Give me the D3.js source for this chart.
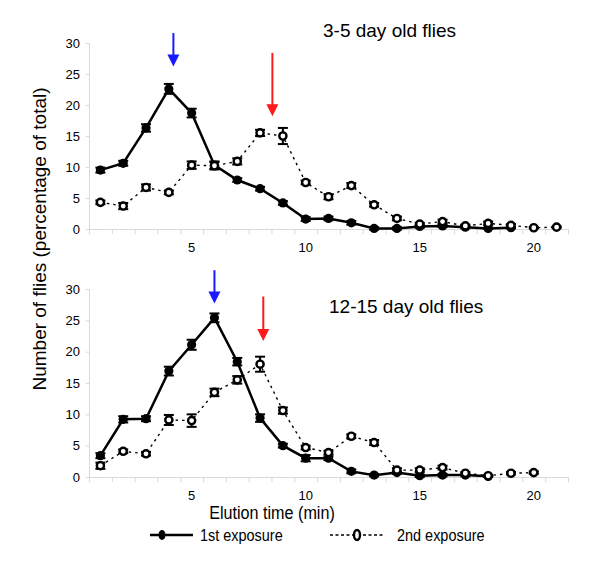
<!DOCTYPE html>
<html><head><meta charset="utf-8">
<script src="https://cdn.jsdelivr.net/npm/d3@7"></script>
<style>body{margin:0;background:#fff}svg{display:block}text{font-family:"Liberation Sans",Arial,sans-serif}</style>
</head><body><svg id="c" width="600" height="570"></svg>
<script>
// ---- data ----
const categories = [1,2,3,4,5,6,7,8,9,10,11,12,13,14,15,16,17,18,19,20,21];
const xTickLabels = [5,10,15,20];
const yTickLabels = [0,5,10,15,20,25,30];
const panelTitles = ["3-5 day old flies","12-15 day old flies"];

const young1st    = [9.5,10.6,16.3,22.6,18.7,10.3,7.9,6.5,4.2,1.6,1.7,1.0,0.1,0.1,0.4,0.5,0.3,0.1,0.2];
const young1stErr = [0.4,0.4,0.6,0.8,0.7,0.6,0.3,0.3,0.3,0.3,0.3,0.3,0.2,0.2,0.2,0.2,0.2,0.1,0.1];
const young2nd    = [4.3,3.7,6.7,5.9,10.3,10.2,10.9,15.5,15.0,7.5,5.2,7.0,3.9,1.7,0.8,1.2,0.5,0.9,0.6,0.2,0.3];
const young2ndErr = [0.3,0.5,0.5,0.3,0.6,0.6,0.5,0.5,1.3,0.3,0.4,0.4,0.3,0.3,0.2,0.3,0.2,0.3,0.2,0.1,0.1];

const old1st    = [3.4,9.2,9.3,16.9,21.1,25.4,18.4,9.4,5.0,3.0,3.0,0.9,0.3,0.7,0.2,0.3,0.3,0.1];
const old1stErr = [0.4,0.5,0.4,0.7,0.8,0.7,0.6,0.6,0.3,0.5,0.3,0.3,0.2,0.2,0.2,0.2,0.2,0.1];
const old2nd    = [1.8,4.1,3.7,9.1,9.0,13.5,15.5,18.0,10.6,4.7,3.9,6.5,5.5,1.1,1.1,1.5,0.6,0.2,0.6,0.7];
const old2ndErr = [0.5,0.3,0.3,0.8,1.0,0.6,0.6,1.2,0.5,0.3,0.3,0.3,0.4,0.3,0.3,0.3,0.2,0.1,0.2,0.2];

// arrows: elution position, start value, tip value
const youngArrowX = [4.2, 8.54], youngArrowFrom = [31.6, 28.4], youngArrowTo = [26.2, 18.2];
const oldArrowX   = [6.0, 8.14], oldArrowFrom   = [33.0, 28.8], oldArrowTo   = [27.7, 21.7];
const arrowColors = ["#1a1aff", "#ff1a1a"];

const legendLabels = ["1st exposure","2nd exposure"];

// ---- drawing ----
const svg = d3.select("#c");
const x = d3.scaleLinear().domain([0.5, 21.5]).range([89, 568]);

const panels = [
  {top:43, bottom:229, s1:young1st, e1:young1stErr, s2:young2nd, e2:young2ndErr,
   ax:youngArrowX, af:youngArrowFrom, at:youngArrowTo, title:panelTitles[0], tx:323, ty:37},
  {top:289, bottom:477, s1:old1st, e1:old1stErr, s2:old2nd, e2:old2ndErr,
   ax:oldArrowX, af:oldArrowFrom, at:oldArrowTo, title:panelTitles[1], tx:329, ty:313}
];

panels.forEach(p => {
  const y = d3.scaleLinear().domain([0,30]).range([p.bottom, p.top]);
  const g = svg.append("g");

  const xAxis = d3.axisBottom(x)
    .tickValues(d3.range(0.5, 21.6, 1))
    .tickSize(5).tickFormat("");
  const gx = g.append("g").attr("transform",`translate(0,${p.bottom})`).call(xAxis);
  gx.selectAll("path,line").attr("stroke","#d9d9d9").attr("stroke-width",1);
  g.append("g").selectAll("text").data(xTickLabels).join("text")
    .attr("x", d => x(d)).attr("y", p.bottom + 23)
    .attr("text-anchor","middle").attr("font-size",13).text(d => d);

  const yAxis = d3.axisLeft(y).tickValues(yTickLabels).tickSize(3).tickPadding(6);
  const gy = g.append("g").attr("transform",`translate(${x.range()[0]},0)`).call(yAxis);
  gy.select(".domain").attr("stroke","#d9d9d9");
  gy.selectAll("line").attr("stroke","#d9d9d9");
  gy.selectAll("text").attr("font-size",13).attr("font-family","Liberation Sans, Arial, sans-serif").attr("fill","#000");

  const d1 = p.s1.map((v,i)=>({c:categories[i], v, e:p.e1[i]}));
  const d2 = p.s2.map((v,i)=>({c:categories[i], v, e:p.e2[i]}));
  const line = d3.line().x(d=>x(d.c)).y(d=>y(d.v));

  g.append("path").datum(d2).attr("d",line).attr("fill","none")
    .attr("stroke","#000").attr("stroke-width",1.4).attr("stroke-dasharray","2.5,4");
  g.append("path").datum(d1).attr("d",line).attr("fill","none")
    .attr("stroke","#000").attr("stroke-width",2.5);

  const errBars = (data) => {
    const eg = g.append("g").attr("stroke","#000").attr("stroke-width",2);
    data.forEach(d => {
      eg.append("line").attr("x1",x(d.c)).attr("x2",x(d.c)).attr("y1",y(d.v-d.e)).attr("y2",y(d.v+d.e));
      [d.v-d.e, d.v+d.e].forEach(v => eg.append("line")
        .attr("x1",x(d.c)-5).attr("x2",x(d.c)+5).attr("y1",y(v)).attr("y2",y(v)));
    });
  };
  errBars(d1);
  g.append("g").selectAll("circle").data(d1).join("circle")
    .attr("cx",d=>x(d.c)).attr("cy",d=>y(d.v)).attr("r",4.6).attr("fill","#000");
  errBars(d2);
  g.append("g").selectAll("circle").data(d2).join("circle")
    .attr("cx",d=>x(d.c)).attr("cy",d=>y(d.v)).attr("r",3.6)
    .attr("fill","#fff").attr("stroke","#000").attr("stroke-width",2.4);

  p.ax.forEach((ax,i) => {
    const px = x(ax), y0 = y(p.af[i]), y1 = y(p.at[i]);
    g.append("line").attr("x1",px).attr("x2",px).attr("y1",y0).attr("y2",y1-10)
      .attr("stroke",arrowColors[i]).attr("stroke-width",2);
    g.append("path").attr("d",`M${px-6},${y1-12}L${px+6},${y1-12}L${px},${y1}Z`)
      .attr("fill",arrowColors[i]);
  });

  g.append("text").attr("x",p.tx).attr("y",p.ty).attr("font-size",19).text(p.title);
});

svg.append("text").attr("transform","translate(46,239) rotate(-90)")
  .attr("text-anchor","middle").attr("font-size",19)
  .text("Number of flies (percentage of total)");

// condensed-looking texts (horizontally squeezed)
const squeezed = (xPos, yPos, size, anchor, str) =>
  svg.append("text").attr("transform",`translate(${xPos},${yPos}) scale(0.85,1)`)
    .attr("text-anchor",anchor).attr("font-size",size).text(str);

squeezed(272, 519, 19, "middle", "Elution time (min)");

const lg = svg.append("g");
lg.append("line").attr("x1",150).attr("x2",193).attr("y1",535).attr("y2",535)
  .attr("stroke","#000").attr("stroke-width",2.5);
lg.append("ellipse").attr("cx",162).attr("cy",535).attr("rx",3.5).attr("ry",5).attr("fill","#000");
squeezed(200, 541, 17, "start", legendLabels[0]);
lg.append("line").attr("x1",330).attr("x2",385).attr("y1",535).attr("y2",535)
  .attr("stroke","#000").attr("stroke-width",1.4).attr("stroke-dasharray","3,2.5");
lg.append("ellipse").attr("cx",357).attr("cy",535).attr("rx",3).attr("ry",5)
  .attr("fill","#fff").attr("stroke","#000").attr("stroke-width",2.4);
squeezed(397, 541, 17, "start", legendLabels[1]);
</script></body></html>
